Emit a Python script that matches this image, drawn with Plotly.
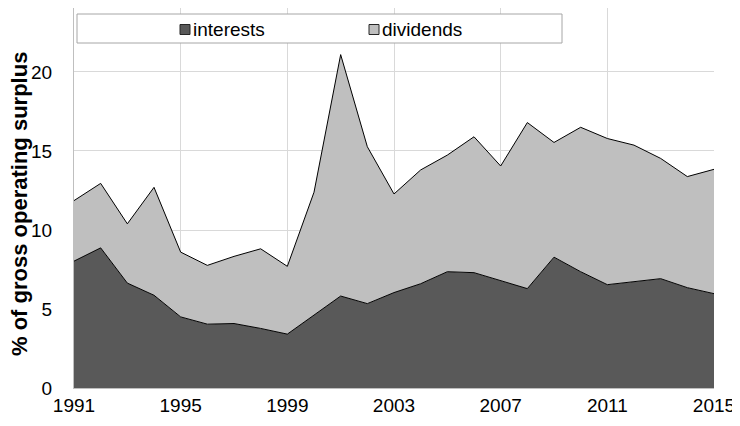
import plotly.graph_objects as go

years = list(range(1991, 2016))
interests = [8.03, 8.87, 6.64, 5.87, 4.50, 4.04, 4.08, 3.77, 3.41, 4.60,
             5.82, 5.34, 6.04, 6.60, 7.36, 7.30, 6.81, 6.29, 8.28, 7.36,
             6.54, 6.75, 6.92, 6.35, 5.97]
dividends = [3.83, 4.08, 3.75, 6.83, 4.10, 3.72, 4.25, 5.04, 4.29, 7.79,
             15.28, 9.93, 6.24, 7.20, 7.38, 8.60, 7.24, 10.51, 7.26, 9.14,
             9.25, 8.62, 7.61, 7.03, 7.87]
series_names = ["interests", "dividends"]
series_colors = ["#595959", "#bfbfbf"]
x_ticks = [1991, 1995, 1999, 2003, 2007, 2011, 2015]
y_ticks = [0, 5, 10, 15, 20]
y_title = "% of gross operating surplus"

FONT = "Liberation Sans, Arial, sans-serif"

fig = go.Figure()
for name, vals, col in zip(series_names, [interests, dividends], series_colors):
    fig.add_trace(go.Scatter(
        x=years, y=vals, name=name, stackgroup="one", mode="lines",
        line=dict(color="#000000", width=1), fillcolor=col,
        showlegend=False, hoverinfo="skip"))

# page body has an 8px default margin: the figure is offset by it
OFF = 8
W, H = 740 - OFF, 426 - OFF
L, R, T, B = 74 - OFF, 26, 0, 38
pw, ph = W - L - R, H - T - B

def px(x):  # absolute window x -> paper
    return (x - OFF - L) / pw

def py(y):  # absolute window y -> paper
    return (H - B - (y - OFF)) / ph

shapes = [
    dict(type="rect", xref="paper", yref="paper",
         x0=px(77), x1=px(562), y0=py(43), y1=py(14),
         fillcolor="white", line=dict(color="#a6a6a6", width=1), layer="above"),
]
annotations = []
leg_sq_x = [180, 369]
for name, col, sx in zip(series_names, series_colors, leg_sq_x):
    shapes.append(dict(type="rect", xref="paper", yref="paper",
                       x0=px(sx), x1=px(sx + 10), y0=py(34.5), y1=py(24.5),
                       fillcolor=col, line=dict(color="#262626", width=1), layer="above"))
    annotations.append(dict(text=name, xref="paper", yref="paper",
                            x=px(sx + 11), y=py(29.5), xanchor="left", yanchor="middle",
                            showarrow=False, font=dict(family=FONT, size=19, color="#000000")))

annotations.append(dict(text="<b>" + y_title + "</b>", xref="paper", yref="paper",
                        x=px(19), y=py(204), textangle=-90, xanchor="center", yanchor="middle",
                        showarrow=False, font=dict(family=FONT, size=22, color="#000000")))

fig.update_layout(
    width=W, height=H,
    margin=dict(l=L, r=R, t=T, b=B, pad=0, autoexpand=False),
    paper_bgcolor="white", plot_bgcolor="white",
    font=dict(family=FONT, size=19, color="#000000"),
    shapes=shapes, annotations=annotations,
    showlegend=False,
    xaxis=dict(range=[1991, 2015], tickvals=x_ticks, ticktext=[str(t) for t in x_ticks],
               showgrid=True, gridcolor="#d9d9d9", gridwidth=1,
               showline=True, linecolor="#bfbfbf", linewidth=1,
               ticks="", zeroline=False, tickfont=dict(size=19)),
    yaxis=dict(range=[0, 24.05], tickvals=y_ticks, ticktext=[str(t) for t in y_ticks],
               showgrid=True, gridcolor="#d9d9d9", gridwidth=1,
               showline=True, linecolor="#bfbfbf", linewidth=1,
               ticks="outside", ticklen=17, tickcolor="rgba(0,0,0,0)",
               zeroline=False, tickfont=dict(size=19)),
)

fig.write_html("out.html")
